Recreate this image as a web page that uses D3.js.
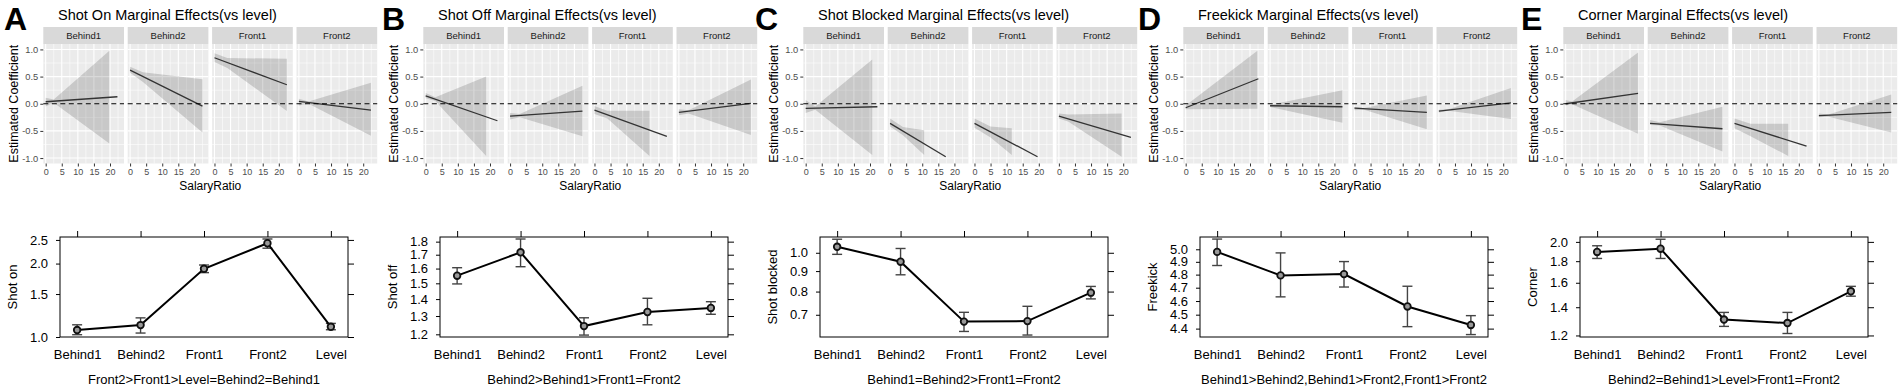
<!DOCTYPE html>
<html>
<head>
<meta charset="UTF-8">
<title>Marginal effects by game state</title>
<style>
  body { margin: 0; background: #fff; }
  svg { display: block; font-family: "Liberation Sans", Arial, sans-serif; }
</style>
<script src="https://cdn.jsdelivr.net/npm/d3@7/dist/d3.min.js"></script>
</head>
<body>
<svg id="chart" width="1902" height="391"></svg>
<script>
// ---- data ----
const panelLetters = ["A", "B", "C", "D", "E"];
const panelTitles = [
  "Shot On Marginal Effects(vs level)",
  "Shot Off Marginal Effects(vs level)",
  "Shot Blocked Marginal Effects(vs level)",
  "Freekick Marginal Effects(vs level)",
  "Corner Marginal Effects(vs level)"
];
const facetNames = ["Behind1", "Behind2", "Front1", "Front2"];
const salaryTicks = [0, 5, 10, 15, 20];
const coefTicks = [-1, -0.5, 0, 0.5, 1];

// fitted marginal effect lines, [salaryRatio, coefficient] start/end per facet
const effectLines = [
  [[[0, 0.037], [22.3, 0.129]], [[0, 0.62], [22.5, -0.043]], [[0, 0.847], [22.5, 0.35]], [[0, 0.043], [22.4, -0.117]]],
  [[[0, 0.147], [22.3, -0.313]], [[0, -0.227], [22.5, -0.135]], [[0, -0.117], [22.5, -0.6]], [[0, -0.16], [22.4, 0.006]]],
  [[[0, -0.086], [22.3, -0.055]], [[0, -0.362], [17.3, -0.975]], [[0, -0.362], [19.6, -0.975]], [[0, -0.227], [22.4, -0.62]]],
  [[[0, -0.074], [22.6, 0.46]], [[0, -0.037], [22.5, -0.055]], [[0, -0.08], [22.5, -0.16]], [[0, -0.135], [22.4, 0.018]]],
  [[[0, 0.0], [22.5, 0.19]], [[0, -0.362], [22.5, -0.46]], [[0, -0.362], [22.4, -0.78]], [[0, -0.22], [22.5, -0.16]]]
];

// confidence bands, [salaryRatio, lower, upper]
const effectBands = [
  [
    [[0, -0.05, 0.11], [2.5, 0.02, 0.08], [19.8, -0.73, 0.975]],
    [[0, 0.57, 0.68], [4, 0.40, 0.58], [22.5, -0.53, 0.45]],
    [[0, 0.77, 0.93], [4, 0.66, 0.84], [22.5, -0.135, 0.83]],
    [[0, -0.03, 0.09], [3, 0.0, 0.04], [22.4, -0.59, 0.386]]
  ],
  [
    [[0, 0.10, 0.20], [3, 0.05, 0.12], [18.8, -0.96, 0.50]],
    [[0, -0.29, -0.17], [3, -0.25, -0.19], [22.5, -0.60, 0.33]],
    [[0, -0.19, -0.04], [4, -0.27, -0.13], [17.1, -0.96, -0.13]],
    [[0, -0.21, -0.10], [3, -0.18, -0.12], [22.4, -0.577, 0.448]]
  ],
  [
    [[0, -0.17, 0.07], [3, -0.11, -0.05], [20.7, -0.945, 0.816]],
    [[0, -0.42, -0.27], [4, -0.58, -0.43], [10.6, -0.945, -0.49]],
    [[0, -0.44, -0.27], [5, -0.62, -0.42], [11.6, -0.945, -0.45]],
    [[0, -0.27, -0.18], [3, -0.33, -0.20], [19.5, -0.975, -0.18]]
  ],
  [
    [[0, -0.10, -0.03], [22.3, -0.09, 0.975]],
    [[0, -0.06, -0.02], [22.5, -0.35, 0.25]],
    [[0, -0.12, -0.06], [3, -0.11, -0.08], [22.5, -0.47, 0.15]],
    [[0, -0.16, -0.11], [3, -0.13, -0.10], [22.4, -0.28, 0.29]]
  ],
  [
    [[0, -0.03, 0.07], [2, -0.01, 0.04], [22.5, -0.55, 0.945]],
    [[0, -0.39, -0.30], [3, -0.40, -0.34], [22.5, -0.88, -0.055]],
    [[0, -0.45, -0.27], [5, -0.60, -0.37], [16.7, -0.96, -0.37]],
    [[0, -0.25, -0.18], [3, -0.24, -0.20], [22.5, -0.53, 0.17]]
  ]
];

const categories = ["Behind1", "Behind2", "Front1", "Front2", "Level"];
const measureNames = ["Shot on", "Shot off", "Shot blocked", "Freekick", "Corner"];
const comparisons = [
  "Front2>Front1>Level=Behind2=Behind1",
  "Behind2>Behind1>Front1=Front2",
  "Behind1=Behind2>Front1=Front2",
  "Behind1>Behind2,Behind1>Front2,Front1>Front2",
  "Behind2=Behind1>Level>Front1=Front2"
];
const meanValues = [
  [1.068, 1.119, 1.904, 2.423, 1.101],
  [1.551, 1.718, 1.244, 1.323, 1.347],
  [1.035, 0.950, 0.673, 0.675, 0.795],
  [4.979, 4.794, 4.804, 4.560, 4.426],
  [1.893, 1.927, 1.309, 1.284, 1.527]
];
const lowerValues = [
  [1.022, 1.038, 1.836, 2.312, 1.071],
  [1.496, 1.613, 1.196, 1.251, 1.310],
  [0.991, 0.881, 0.636, 0.623, 0.767],
  [4.871, 4.631, 4.705, 4.414, 4.358],
  [1.827, 1.827, 1.261, 1.213, 1.487]
];
const upperValues = [
  [1.122, 1.198, 1.973, 2.522, 1.137],
  [1.606, 1.821, 1.290, 1.405, 1.384],
  [1.081, 1.025, 0.710, 0.735, 0.824],
  [5.083, 4.971, 4.902, 4.711, 4.493],
  [1.958, 2.029, 1.361, 1.361, 1.569]
];
const meanTicks = [
  [1.0, 1.5, 2.0, 2.5],
  [1.2, 1.3, 1.4, 1.5, 1.6, 1.7, 1.8],
  [0.7, 0.8, 0.9, 1.0],
  [4.4, 4.5, 4.6, 4.7, 4.8, 4.9, 5.0],
  [1.2, 1.4, 1.6, 1.8, 2.0]
];
const meanDomains = [[1.0, 2.57], [1.186, 1.837], [0.616, 1.095], [4.341, 5.10], [1.19, 2.054]];

// ---- layout ----
const svg = d3.select('#chart');
const panelWidth = 380;
const letterX = [4, 382, 755, 1138, 1521];
const facet = { left: 43.3, top: 44, width: 80.7, height: 119.5, pitch: 84.4, strip: 17 };
const box = { left: 60, right: 348, top: 237, bottom: 337 };
const fmt1 = d => d.toFixed(1);

const xFacet = d3.scaleLinear().domain([-0.74, 24.35]).range([0, facet.width]);
const yFacet = d3.scaleLinear().domain([-1.1, 1.1]).range([facet.height, 0]);
const xMinor = [2.5, 7.5, 12.5, 17.5, 22.5];
const yMinor = [-0.75, -0.25, 0.25, 0.75];

const xCat = d3.scalePoint().domain(categories).range([box.left, box.right]).padding(0.27);

const band = d3.area()
  .x(d => xFacet(d[0]))
  .y0(d => yFacet(d[1]))
  .y1(d => yFacet(d[2]));
const effLine = d3.line().x(d => xFacet(d[0])).y(d => yFacet(d[1]));

panelTitles.forEach((title, p) => {
  const g = svg.append('g').attr('transform', `translate(${p * panelWidth},0)`);

  svg.append('text')
    .attr('x', letterX[p]).attr('y', 30)
    .style('font-size', '32px').style('font-weight', 'bold')
    .text(panelLetters[p]);

  g.append('text')
    .attr('x', 58).attr('y', 20)
    .style('font-size', '14.5px')
    .text(title);

  // top: faceted marginal effects
  facetNames.forEach((name, f) => {
    const fg = g.append('g')
      .attr('transform', `translate(${facet.left + f * facet.pitch},${facet.top})`);
    const clipId = `clip-${p}-${f}`;
    fg.append('clipPath').attr('id', clipId)
      .append('rect').attr('width', facet.width).attr('height', facet.height);

    fg.append('rect')
      .attr('width', facet.width).attr('height', facet.height)
      .attr('fill', '#ebebeb');

    fg.selectAll('.minx').data(xMinor.filter(v => xFacet(v) < facet.width)).join('line')
      .attr('x1', d => xFacet(d)).attr('x2', d => xFacet(d))
      .attr('y1', 0).attr('y2', facet.height)
      .attr('stroke', '#fff').attr('stroke-width', 0.55);
    fg.selectAll('.miny').data(yMinor).join('line')
      .attr('y1', d => yFacet(d)).attr('y2', d => yFacet(d))
      .attr('x1', 0).attr('x2', facet.width)
      .attr('stroke', '#fff').attr('stroke-width', 0.55);
    fg.selectAll('.majx').data(salaryTicks).join('line')
      .attr('x1', d => xFacet(d)).attr('x2', d => xFacet(d))
      .attr('y1', 0).attr('y2', facet.height)
      .attr('stroke', '#fff').attr('stroke-width', 1.1);
    fg.selectAll('.majy').data(coefTicks).join('line')
      .attr('y1', d => yFacet(d)).attr('y2', d => yFacet(d))
      .attr('x1', 0).attr('x2', facet.width)
      .attr('stroke', '#fff').attr('stroke-width', 1.1);

    const plot = fg.append('g').attr('clip-path', `url(#${clipId})`);
    plot.append('path')
      .datum(effectBands[p][f])
      .attr('d', band)
      .attr('fill', '#000').attr('fill-opacity', 0.15);
    plot.append('path')
      .datum(effectLines[p][f])
      .attr('d', effLine)
      .attr('fill', 'none').attr('stroke', '#333').attr('stroke-width', 1.3);

    fg.append('line')
      .attr('x1', 0).attr('x2', facet.width)
      .attr('y1', yFacet(0)).attr('y2', yFacet(0))
      .attr('stroke', '#000').attr('stroke-width', 1.2)
      .attr('stroke-dasharray', '5,3.5');

    // strip
    fg.append('rect')
      .attr('y', -facet.strip).attr('width', facet.width).attr('height', facet.strip)
      .attr('fill', '#d9d9d9');
    fg.append('text')
      .attr('x', facet.width / 2).attr('y', -facet.strip / 2)
      .attr('dy', '0.35em').attr('text-anchor', 'middle')
      .style('font-size', '9.5px').attr('fill', '#1a1a1a')
      .text(name);

    const xa = fg.append('g')
      .attr('transform', `translate(0,${facet.height})`)
      .call(d3.axisBottom(xFacet).tickValues(salaryTicks).tickSize(3).tickPadding(2));
    xa.select('.domain').remove();
    xa.selectAll('line').attr('stroke', '#333');
    xa.selectAll('text').attr('fill', '#4d4d4d').style('font-size', '9px')
      .style('font-family', '"Liberation Sans", Arial, sans-serif');

    if (f === 0) {
      const ya = fg.append('g')
        .call(d3.axisLeft(yFacet).tickValues(coefTicks).tickFormat(fmt1).tickSize(3).tickPadding(2));
      ya.select('.domain').remove();
      ya.selectAll('line').attr('stroke', '#333');
      ya.selectAll('text').attr('fill', '#4d4d4d').style('font-size', '9.3px')
        .style('font-family', '"Liberation Sans", Arial, sans-serif');
    }
  });

  g.append('text')
    .attr('transform', `translate(18,${facet.top + facet.height / 2}) rotate(-90)`)
    .attr('text-anchor', 'middle')
    .style('font-size', '12.5px')
    .text('Estimated Coefficient');

  g.append('text')
    .attr('x', facet.left + (3 * facet.pitch + facet.width) / 2).attr('y', 190)
    .attr('text-anchor', 'middle')
    .style('font-size', '12px')
    .text('SalaryRatio');

  // bottom: group means with error bars
  const yMean = d3.scaleLog().domain(meanDomains[p]).range([box.bottom, box.top]);
  const pts = categories.map((c, i) => ({
    cat: c, v: meanValues[p][i], lo: lowerValues[p][i], hi: upperValues[p][i]
  }));

  const left = g.append('g').attr('transform', `translate(${box.left},0)`)
    .call(d3.axisLeft(yMean).tickValues(meanTicks[p]).tickFormat(fmt1).tickSize(4).tickPadding(8));
  left.select('.domain').remove();
  left.selectAll('text').style('font-size', '13px').attr('fill', '#000')
    .style('font-family', '"Liberation Sans", Arial, sans-serif');

  const right = g.append('g').attr('transform', `translate(${box.right},0)`)
    .call(d3.axisRight(yMean).tickValues(meanTicks[p]).tickFormat('').tickSize(6));
  right.select('.domain').remove();

  const top = g.append('g').attr('transform', `translate(0,${box.top})`)
    .call(d3.axisTop(xCat).tickFormat('').tickSize(6));
  top.select('.domain').remove();

  const bottom = g.append('g').attr('transform', `translate(0,${box.bottom})`)
    .call(d3.axisBottom(xCat).tickSize(0).tickPadding(13));
  bottom.select('.domain').remove();
  bottom.selectAll('text').style('font-size', '13px').attr('fill', '#000')
    .style('font-family', '"Liberation Sans", Arial, sans-serif');

  g.append('rect')
    .attr('x', box.left).attr('y', box.top)
    .attr('width', box.right - box.left).attr('height', box.bottom - box.top)
    .attr('fill', 'none').attr('stroke', '#000').attr('stroke-width', 1);

  const eb = g.append('g').attr('stroke', '#444').attr('stroke-width', 1.4);
  eb.selectAll('.whisker').data(pts).join('line')
    .attr('x1', d => xCat(d.cat)).attr('x2', d => xCat(d.cat))
    .attr('y1', d => yMean(d.lo)).attr('y2', d => yMean(d.hi));
  eb.selectAll('.capHi').data(pts).join('line')
    .attr('x1', d => xCat(d.cat) - 5).attr('x2', d => xCat(d.cat) + 5)
    .attr('y1', d => yMean(d.hi)).attr('y2', d => yMean(d.hi));
  eb.selectAll('.capLo').data(pts).join('line')
    .attr('x1', d => xCat(d.cat) - 5).attr('x2', d => xCat(d.cat) + 5)
    .attr('y1', d => yMean(d.lo)).attr('y2', d => yMean(d.lo));

  g.append('path')
    .datum(pts)
    .attr('d', d3.line().x(d => xCat(d.cat)).y(d => yMean(d.v)))
    .attr('fill', 'none').attr('stroke', '#000').attr('stroke-width', 2);

  g.selectAll('.pt').data(pts).join('circle')
    .attr('cx', d => xCat(d.cat)).attr('cy', d => yMean(d.v))
    .attr('r', 3.3)
    .attr('fill', '#999').attr('stroke', '#111').attr('stroke-width', 1.8);

  g.append('text')
    .attr('transform', `translate(17,${(box.top + box.bottom) / 2}) rotate(-90)`)
    .attr('text-anchor', 'middle')
    .style('font-size', '13px')
    .text(measureNames[p]);

  g.append('text')
    .attr('x', (box.left + box.right) / 2).attr('y', 384)
    .attr('text-anchor', 'middle')
    .style('font-size', '13px')
    .text(comparisons[p]);
});
</script>
</body>
</html>
